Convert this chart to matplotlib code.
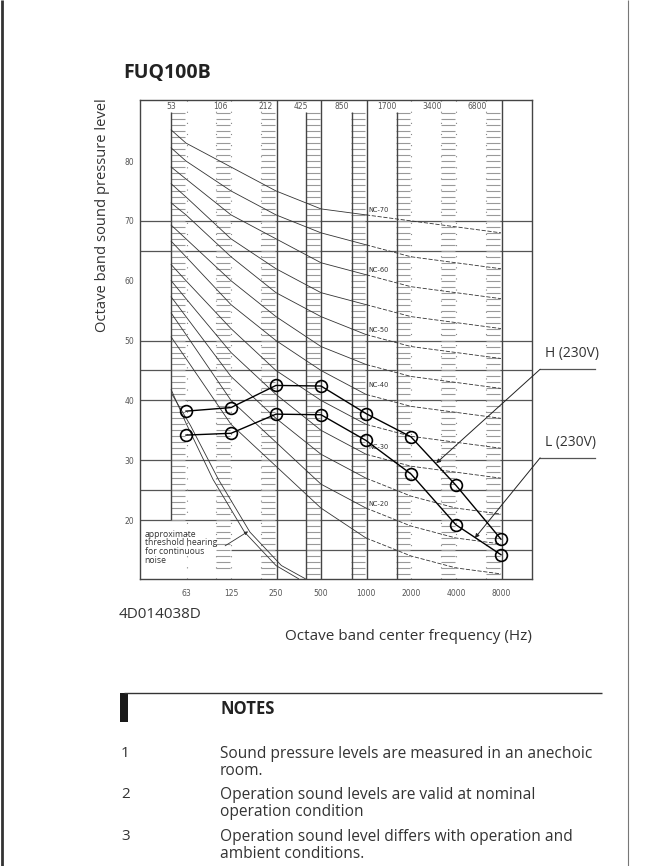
import matplotlib
matplotlib.use("Agg")
import matplotlib.pyplot as plt

# ── data ──────────────────────────────────────────────────────────────────────
# octave bands, x index 0 = 63 Hz ... 7 = 8000 Hz
center_labels = ["63", "125", "250", "500", "1000", "2000", "4000", "8000"]
edge_labels = ["53", "106", "212", "425", "850", "1700", "3400", "6800"]
edge_label_pos = [-0.33, 0.76, 1.78, 2.56, 3.47, 4.47, 5.47, 6.47]
y_ticks = [20, 30, 40, 50, 60, 70, 80]

# unit sound levels (dB)
h_230v = [38.2, 38.8, 42.5, 42.4, 37.8, 33.9, 25.8, 16.8]
l_230v = [34.2, 34.5, 37.7, 37.6, 33.3, 27.7, 19.2, 14.2]

# NC curves: value at left ladder edge, then 63 .. 8000 Hz
nc_names = [15, 20, 25, 30, 35, 40, 45, 50, 55, 60, 65, 70]
nc_start = [50.6, 54.6, 57.3, 60.0, 62.7, 66.6, 69.3, 73.0, 76.2, 79.0, 82.2, 85.2]
nc_curves = [
    [47, 36, 29, 22, 17, 14, 12, 11],
    [51, 40, 33, 26, 22, 19, 17, 16],
    [54, 44, 37, 31, 27, 24, 22, 21],
    [57, 48, 41, 35, 31, 29, 28, 27],
    [60, 52, 45, 40, 36, 34, 33, 32],
    [64, 56, 50, 45, 41, 39, 38, 37],
    [67, 60, 54, 49, 46, 44, 43, 42],
    [71, 64, 58, 54, 51, 49, 48, 47],
    [74, 67, 62, 58, 56, 54, 53, 52],
    [77, 71, 67, 63, 61, 59, 58, 57],
    [80, 75, 71, 68, 66, 64, 63, 62],
    [83, 79, 75, 72, 71, 70, 69, 68],
]
nc_label_names = ["NC-20", "NC-30", "NC-40", "NC-50", "NC-60", "NC-70"]
nc_label_y = [22.7, 32.2, 42.5, 51.7, 61.8, 71.8]

# approximate threshold of hearing (drawn as a double line)
thr_x1 = [-0.33, 0.0, 0.6, 1.3, 2.0, 2.5]
thr_y1 = [41.8, 36.2, 26.8, 18.0, 12.4, 10.2]
thr_x2 = [-0.31, 0.1, 0.72, 1.42, 2.12, 2.65]
thr_y2 = [41.0, 35.8, 26.8, 18.0, 12.4, 10.2]

grid_db = [70, 65, 50, 45, 40, 30, 25, 20]

notes = [
    ("1", "Sound pressure levels are measured in an anechoic\nroom."),
    ("2", "Operation sound levels are valid at nominal\noperation condition"),
    ("3", "Operation sound level differs with operation and\nambient conditions."),
]

FONT = "Open Sans"
INK = "#333333"

# ── figure ────────────────────────────────────────────────────────────────────
W, H = 667, 866
fig = plt.figure(figsize=(W / 100, H / 100), dpi=100)

# page layer in pixel coordinates
page = fig.add_axes([0, 0, 1, 1])
page.set_xlim(0, W)
page.set_ylim(H, 0)
page.axis("off")

# chart frame: x 140..532 px, y 100..579 px
ax = fig.add_axes([140 / W, 1 - 579 / H, (532 - 140) / W, (579 - 100) / H])
ax.set_xlim(-1.022, 7.689)
ax.set_ylim(10.15, 90.2)
for s in ax.spines.values():
    s.set_linewidth(1.0)
    s.set_color("#444444")

# horizontal grid lines
ax.hlines(grid_db, -1.022, 7.689, color="#555555", lw=0.9)
ax.hlines([15], 1.0, 7.689, color="#555555", lw=0.9)

# ladder columns (1 dB dashes left of each band centre)
for i in range(8):
    bottom = 20 if i == 0 else (12 if i == 1 else 11)
    levels = list(range(bottom, 89))
    ax.hlines(levels, i - 0.33, i - 0.03, color="#999999", lw=0.8)

# solid vertical lines
ax.vlines([2.02, 3.0, 4.02, 7.02], 10.15, 90.2, color="#444444", lw=1.0)
ax.vlines([2.67, 3.69, 4.69], 10.15, 88.2, color="#444444", lw=1.0)
ax.vlines([-0.33], 20, 88.2, color="#444444", lw=1.0)
# dotted vertical lines
ax.vlines([0.02, 1.0, 5.0, 6.0, 0.67, 1.67, 5.67, 6.67], 10.15, 90.2,
          color="#888888", lw=0.8, linestyles=(0, (1, 9)))

# NC curves (solid on the left, broken on the right like the scan)
for start, vals in zip(nc_start, nc_curves):
    xs = [-0.33] + list(range(8))
    ys = [start] + vals
    ax.plot(xs[:6], ys[:6], color="#333333", lw=0.6)
    ax.plot(xs[5:], ys[5:], color="#333333", lw=0.6, ls=(0, (5, 2)))
for name, y in zip(nc_label_names, nc_label_y):
    ax.text(4.27, y, name, fontsize=4.8, color="#333333",
            ha="center", va="center")

# threshold of hearing
ax.plot(thr_x1, thr_y1, color="#333333", lw=0.6)
ax.plot(thr_x2, thr_y2, color="#333333", lw=0.6)
ax.text(-0.92, 18.4, "approximate\nthreshold hearing\nfor continuous\nnoise",
        family=FONT, fontsize=6.2, color=INK, va="top", ha="left",
        linespacing=0.95)
ax.annotate("", xy=(1.38, 18.1), xytext=(0.87, 15.7),
            arrowprops=dict(arrowstyle="-|>", lw=0.6, color="#333333",
                            mutation_scale=5, shrinkA=0, shrinkB=0))

# unit data
x = list(range(8))
for series in (h_230v, l_230v):
    ax.plot(x, series, color="black", lw=1.0, marker="o", ms=8.5,
            mfc="none", mec="black", mew=1.2, zorder=5)

# callouts
for label, tip, elbow_y, text_y in [
    ("H (230V)", (5.56, 29.5), 45.2, 47.9),
    ("L (230V)", (6.42, 17.0), 30.4, 32.9),
]:
    ax.annotate("", xy=tip, xytext=(7.87, elbow_y), annotation_clip=False,
                arrowprops=dict(arrowstyle="-|>", lw=0.7, color="#222222",
                                mutation_scale=6, shrinkA=0, shrinkB=0))
    ax.plot([7.87, 9.1], [elbow_y, elbow_y], color="#555555", lw=0.9,
            clip_on=False)
    ax.text(7.98, text_y, label, family=FONT, fontsize=10, color=INK,
            ha="left", va="center", clip_on=False)

# axis labels on the frame
ax.set_yticks(y_ticks)
ax.set_yticklabels([str(v) for v in y_ticks])
ax.set_xticks(x)
ax.set_xticklabels(center_labels)
ax.tick_params(length=0, labelsize=5.5, labelcolor="#555555")
ax.tick_params(axis="x", pad=7)
ax.tick_params(axis="y", pad=4)
for lbl, pos in zip(edge_labels, edge_label_pos):
    ax.text(pos, 89.1, lbl, fontsize=5.5, color="#555555",
            ha="center", va="center")

# ── page text ─────────────────────────────────────────────────────────────────
page.vlines([1.5], 0, H, color="#333333", lw=2)
page.vlines([628], 0, H, color="#777777", lw=0.8)

page.text(123, 73, "FUQ100B", family=FONT, fontsize=14, weight="bold",
          color="#222222", ha="left", va="center")
page.text(102, 215, "Octave band sound pressure level", family=FONT,
          fontsize=10.6, color=INK, rotation=90, ha="center", va="center")
page.text(119, 614, "4D014038D", family=FONT, fontsize=11, color=INK,
          ha="left", va="center")
page.text(408, 637, "Octave band center frequency (Hz)", family=FONT,
          fontsize=11, color=INK, ha="center", va="center")

page.hlines([693], 124, 602, color="#333333", lw=1.0)
page.fill_between([120, 127.5], 693, 722, color="#1a1a1a", lw=0)
page.text(220, 709, "NOTES", family=FONT, fontsize=12, weight="bold",
          color="#222222", ha="left", va="center")

note_y = [746, 787, 829]
for (num, txt), y in zip(notes, note_y):
    page.text(121, y, num, family=FONT, fontsize=11, color=INK,
              ha="left", va="top")
    page.text(220, y, txt, family=FONT, fontsize=11.2, color=INK,
              ha="left", va="top", linespacing=1.12)

fig.savefig("out.png", dpi=100)
